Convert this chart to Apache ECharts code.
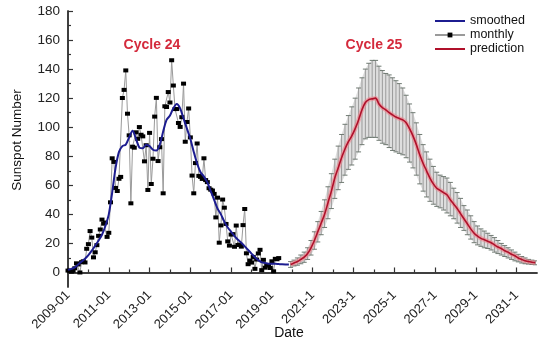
<!DOCTYPE html>
<html><head><meta charset="utf-8">
<script src="https://cdn.jsdelivr.net/npm/echarts@6/dist/echarts.min.js"></script>
<style>html,body{margin:0;padding:0;background:#fff}#c{width:550px;height:342px}</style>
</head><body><div id="c"></div>
<script>
// x axis: months since 2009-01
const START_YEAR = 2009;
const xMajorTicks = [0, 24, 48, 72, 96, 120, 144, 168, 192, 216, 240, 264];
const xMinorTicks = [12, 36, 60, 84, 108, 132, 156, 180, 204, 228, 252];
const yMajorTicks = [0, 20, 40, 60, 80, 100, 120, 140, 160, 180];
const yMinorTicks = [10, 30, 50, 70, 90, 110, 130, 150, 170];

// monthly sunspot number, 2009-01 .. 2019-05
const monthlyValues = [
  1.3, 1.2, 0.6, 1.2, 2.9, 6.3, 5.5, 0.0, 7.1, 7.7, 6.9, 16.3,
  19.5, 28.5, 24.0, 10.4, 13.9, 18.8, 25.2, 29.6, 36.4, 33.6, 34.4, 24.5,
  27.3, 48.3, 78.6, 76.1, 58.2, 56.1, 64.5, 65.8, 120.1, 125.7, 139.1, 109.3,
  94.4, 47.6, 86.6, 85.9, 96.5, 92.0, 100.1, 94.8, 93.7, 76.5, 87.6, 56.8,
  96.1, 60.9, 78.3, 107.3, 120.2, 76.7, 86.2, 91.8, 54.5, 114.4, 113.9, 124.2,
  117.0, 146.1, 128.7, 112.5, 112.5, 102.9, 100.2, 106.9, 130.0, 90.0, 103.6, 112.9,
  93.0, 66.7, 54.5, 75.3, 88.8, 66.5, 65.8, 64.4, 78.6, 63.6, 62.2, 58.0,
  57.0, 56.4, 54.1, 37.9, 51.5, 20.5, 32.4, 50.2, 44.6, 33.4, 21.4, 18.5,
  26.1, 26.4, 17.7, 32.3, 18.9, 19.2, 17.8, 32.6, 43.7, 13.2, 5.7, 8.2,
  6.8, 10.7, 2.5, 8.9, 13.1, 15.6, 1.6, 8.7, 3.3, 4.9, 4.9, 3.1,
  7.7, 0.8, 9.4, 9.1, 9.9
];
// smoothed, every 2 months from 2009-01
const smoothedValues = [
  1.8, 2.5, 3.5, 5.5, 7.5, 9.5, 12, 15, 18.5, 22, 26, 32, 40, 55, 72, 83,
  87, 88, 93, 97.5, 92, 86, 85.5, 88, 87, 84.5, 84, 88, 97, 105, 108, 113,
  116, 113, 106, 99, 92, 83, 75, 69, 66, 62, 56, 50, 44, 40, 35, 31,
  28, 25, 22.5, 20.5, 18, 15.5, 13, 10.5, 8.5, 7, 6.5, 6, 6, 6, 5.8, 5.6, 5.5, 5.5
];
// prediction, every 2 months from 2019-12
const PRED_START = 131;
const predictionValues = [
  5.5, 6.5, 7.5, 9, 10.5, 13, 17, 22, 28, 34, 40, 48, 56, 65, 72, 79, 85, 90, 94, 99,
  105, 112, 117, 119, 119.5, 120, 116, 113.5, 112, 110, 108.5, 107, 106, 105, 103, 99, 94, 88, 81, 75,
  70, 65, 61, 58, 56.5, 55, 53.5, 50, 47, 44, 40.5, 37, 33.5, 30, 27, 25, 23.5, 22.5, 21.5, 20.5,
  19, 17.5, 16.5, 15, 14, 12.5, 11.5, 10, 9, 8, 7.5, 7, 6.8
];
const predictionUpper = [
  7.5, 8.5, 10, 12, 14, 17, 22, 28, 35, 42, 50, 59, 68, 78, 87, 95, 102, 108, 114, 120,
  127, 134, 140, 144, 146, 146, 142, 139, 137, 136, 134, 132, 130, 127, 122, 116, 110, 103, 95, 88,
  83, 78, 73, 69, 67, 66, 65, 62, 58, 55, 51, 46, 43, 39, 35, 32, 30, 28.5, 27, 25.5,
  24, 22, 20, 18.5, 17, 15.5, 14, 12.5, 11, 10, 9, 8.5, 8
];
const predictionLower = [
  3.5, 4.5, 5, 6, 7, 9, 12, 16, 21, 26, 31, 37, 44, 51, 57, 62, 67, 71, 74, 78,
  83, 88, 92, 93, 93, 93, 91, 89, 88, 86, 84, 83, 82, 81, 79, 76, 72, 67, 61, 56,
  52, 49, 47, 45.5, 44.5, 43, 41, 39, 37, 34, 31, 29, 26, 23, 20.5, 19, 18, 17, 16.5, 15.5,
  14, 13, 12, 11, 10, 9, 8, 7.3, 6.5, 6, 5.8, 5.5, 5.3
];

const FONT = "'Liberation Sans', Arial, sans-serif";
const monthlyData = monthlyValues.map((v, i) => [i, v]);
const smoothedData = smoothedValues.map((v, i) => [2 * i, v]);
const predMonths = predictionValues.map((_, i) => PRED_START + 2 * i);
const predData = predictionValues.map((v, i) => [predMonths[i], v]);
const errData = predMonths.map((m, i) => [m, predictionLower[i], predictionUpper[i]]);

function fmtX(v) {
  const y = START_YEAR + Math.round(v / 12);
  return y < 2020 ? y + '-01' : y + '-1';
}
const frameLine = { show: true, lineStyle: { color: '#333', width: 1.5 } };

const chart = echarts.init(document.getElementById('c'));
chart.setOption({
  animation: false,
  backgroundColor: '#fff',
  textStyle: { fontFamily: FONT },
  grid: { left: 68, right: 13, top: 11, bottom: 55 },
  legend: {
    data: [
      { name: 'smoothed', itemStyle: { opacity: 0 } },
      { name: 'monthly' },
      { name: 'prediction', itemStyle: { opacity: 0 } }
    ],
    orient: 'vertical', left: 434, top: 14, padding: 0,
    itemWidth: 30, itemHeight: 6, itemGap: 0,
    textStyle: { fontSize: 12.5, lineHeight: 14, color: '#111', fontFamily: FONT }
  },
  xAxis: [
    { type: 'value', min: 0, max: 276, position: 'bottom',
      axisLine: frameLine,
      axisTick: { show: true, inside: true, length: 5, customValues: xMajorTicks, lineStyle: { color: '#333', width: 1.2 } },
      axisLabel: { customValues: xMajorTicks, rotate: 45, formatter: fmtX, fontSize: 13, color: '#222', margin: 6, fontFamily: FONT },
      splitLine: { show: false } },
    { type: 'value', min: 0, max: 276, position: 'bottom',
      axisLine: { show: false },
      axisTick: { show: true, inside: true, length: 3, customValues: xMinorTicks, lineStyle: { color: '#333', width: 1.2 } },
      axisLabel: { show: false }, splitLine: { show: false } },
    { type: 'value', min: 0, max: 276, position: 'top',
      axisLine: frameLine, axisTick: { show: false }, axisLabel: { show: false }, splitLine: { show: false } }
  ],
  yAxis: [
    { type: 'value', min: -10, max: 180, position: 'left',
      axisLine: frameLine,
      axisTick: { show: true, inside: true, length: 5, customValues: yMajorTicks, lineStyle: { color: '#333', width: 1.2 } },
      axisLabel: { customValues: yMajorTicks, fontSize: 13.5, color: '#222', margin: 8, fontFamily: FONT },
      splitLine: { show: false } },
    { type: 'value', min: -10, max: 180, position: 'left',
      axisLine: { show: false },
      axisTick: { show: true, inside: true, length: 3, customValues: yMinorTicks, lineStyle: { color: '#333', width: 1.2 } },
      axisLabel: { show: false }, splitLine: { show: false } },
    { type: 'value', min: -10, max: 180, position: 'right',
      axisLine: frameLine, axisTick: { show: false }, axisLabel: { show: false }, splitLine: { show: false } }
  ],
  graphic: [
    { type: 'text', style: { text: 'Cycle 24', x: 152, y: 45, align: 'center', verticalAlign: 'middle', font: "bold 14px " + FONT, fill: '#d42a3c' } },
    { type: 'text', style: { text: 'Cycle 25', x: 374, y: 45, align: 'center', verticalAlign: 'middle', font: "bold 14px " + FONT, fill: '#d42a3c' } },
    { type: 'text', x: 17, y: 140, rotation: Math.PI / 2, style: { text: 'Sunspot Number', x: 0, y: 0, align: 'center', verticalAlign: 'middle', font: "13.5px " + FONT, fill: '#111' } },
    { type: 'text', style: { text: 'Date', x: 289, y: 333, align: 'center', verticalAlign: 'middle', font: "14px " + FONT, fill: '#111' } }
  ],
  series: [
    { type: 'custom', name: 'err', xAxisIndex: 0, yAxisIndex: 0, data: errData, clip: true, z: 1,
      renderItem: function (params, api) {
        const i = params.dataIndex;
        const m = api.value(0), lo = api.value(1), hi = api.value(2);
        const pLo = api.coord([m, lo]), pHi = api.coord([m, hi]);
        const cap = 2.5;
        const children = [];
        if (i < errData.length - 1) {
          const n = errData[i + 1];
          const a = api.coord([n[0], n[2]]), b = api.coord([n[0], n[1]]);
          children.push({ type: 'polygon', shape: { points: [pHi, a, b, pLo] }, style: { fill: '#dedede' } });
        }
        children.push({ type: 'line', shape: { x1: pLo[0], y1: pLo[1], x2: pHi[0], y2: pHi[1] }, style: { stroke: '#9a9a9a', lineWidth: 1 } });
        children.push({ type: 'line', shape: { x1: pHi[0] - cap, y1: pHi[1], x2: pHi[0] + cap, y2: pHi[1] }, style: { stroke: '#6f7a72', lineWidth: 1 } });
        children.push({ type: 'line', shape: { x1: pLo[0] - cap, y1: pLo[1], x2: pLo[0] + cap, y2: pLo[1] }, style: { stroke: '#6f7a72', lineWidth: 1 } });
        return { type: 'group', children: children };
      } },
    { type: 'line', name: 'halo', data: predData, showSymbol: false, symbol: 'none', smooth: 0.3, z: 2,
      lineStyle: { color: 'rgba(240,130,140,0.6)', width: 4.5 } },
    { type: 'line', name: 'prediction', data: predData, showSymbol: false, symbol: 'none', smooth: 0.3, z: 3,
      itemStyle: { color: '#b0102a' }, lineStyle: { color: '#b0102a', width: 1.6 } },
    { type: 'line', name: 'monthly', data: monthlyData, symbol: 'rect', symbolSize: [5, 4], z: 4,
      itemStyle: { color: '#000' }, lineStyle: { color: '#9a9a9a', width: 1 } },
    { type: 'line', name: 'smoothed', data: smoothedData, showSymbol: false, symbol: 'none', smooth: 0.3, z: 5,
      itemStyle: { color: '#1c1c90' }, lineStyle: { color: '#1c1c90', width: 2 } }
  ]
});
</script>
</body></html>
